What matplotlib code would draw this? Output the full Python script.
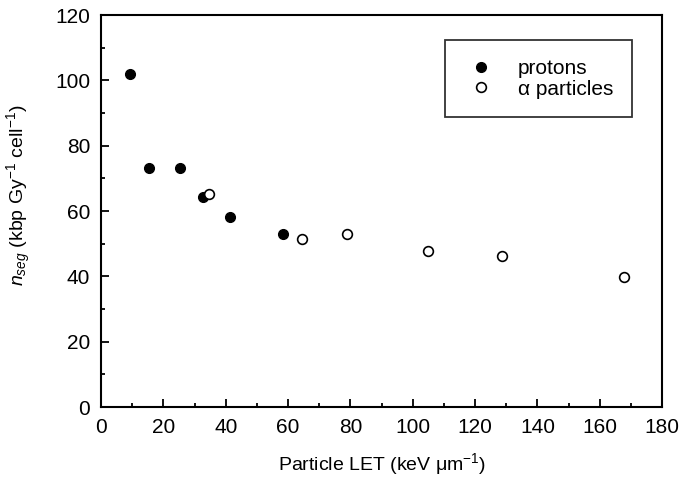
import numpy as np
import matplotlib.pyplot as plt
from matplotlib.ticker import MultipleLocator

plt.rcParams['font.family'] = ['Liberation Sans', 'DejaVu Sans']
plt.rcParams['mathtext.fontset'] = 'custom'
plt.rcParams['mathtext.rm'] = 'Liberation Sans'
plt.rcParams['mathtext.it'] = 'Liberation Sans:italic'

# protons
let_p = [9.1, 15.5, 25.3, 32.8, 41.5, 58.5]
nseg_p = [102.0, 73.2, 73.3, 64.2, 58.2, 53.0]

# alpha particles
let_a = [34.6, 64.3, 79.0, 104.8, 128.8, 167.8]
nseg_a = [65.3, 51.3, 52.9, 47.7, 46.1, 39.7]

fig = plt.figure(figsize=(6.79, 4.84), dpi=100)
ax = fig.add_axes([0.149, 0.159, 0.826, 0.81])

ax.plot(let_p, nseg_p, 'o', color='black', markersize=7, label='protons', zorder=3)
ax.plot(let_a, nseg_a, 'o', markerfacecolor='white', markeredgecolor='black',
        markeredgewidth=1.2, markersize=7, label='α particles', zorder=4)

ax.set_xlim(0, 180)
ax.set_ylim(0, 120)
ax.xaxis.set_major_locator(MultipleLocator(20))
ax.xaxis.set_minor_locator(MultipleLocator(10))
ax.yaxis.set_major_locator(MultipleLocator(20))
ax.yaxis.set_minor_locator(MultipleLocator(10))
ax.tick_params(which='both', direction='in', labelsize=15, width=1.3)
ax.tick_params(which='major', length=6, pad=8)
ax.tick_params(which='minor', length=3)
for s in ax.spines.values():
    s.set_linewidth(1.5)

ax.set_xlabel('Particle LET (keV μm$^{-1}$)', fontsize=14, labelpad=10)
ax.set_ylabel(r'$n_{seg}$ (kbp Gy$^{-1}$ cell$^{-1}$)', fontsize=14)
ax.yaxis.set_label_coords(-0.121, 0.54)

leg = ax.legend(loc='upper right', bbox_to_anchor=(0.9465, 0.936), fontsize=15,
                frameon=True, fancybox=False, edgecolor='black',
                handletextpad=0.9, borderpad=0.9, labelspacing=0.08,
                handlelength=1.7, borderaxespad=0)
leg.get_frame().set_linewidth(1.3)

fig.savefig('out.png', dpi=100)
